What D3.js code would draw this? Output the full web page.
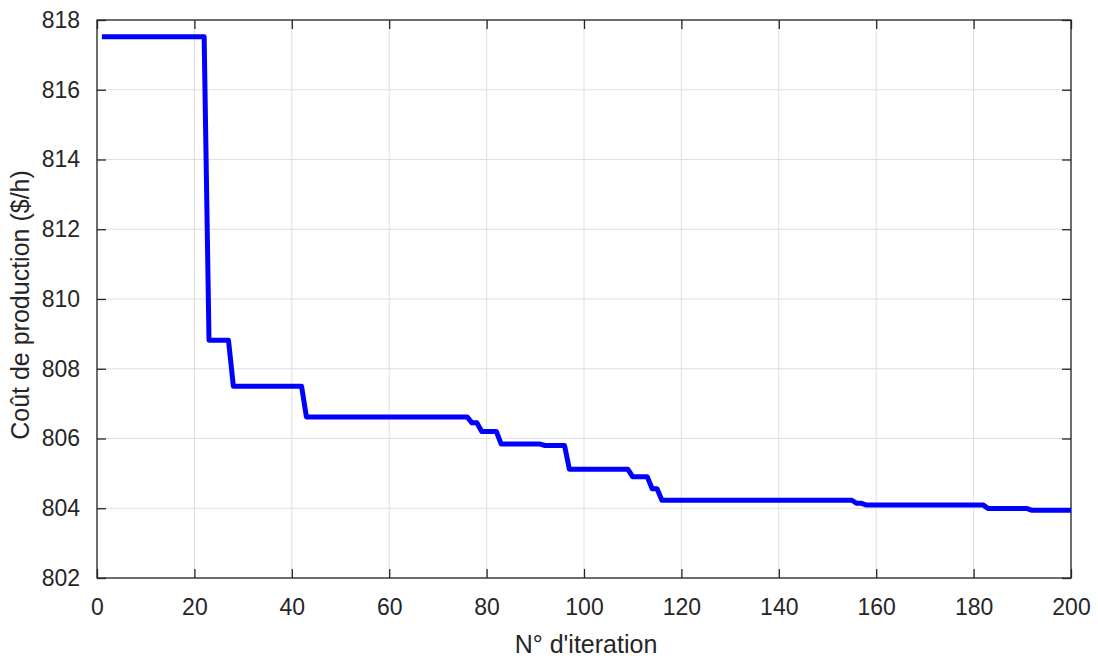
<!DOCTYPE html>
<html>
<head>
<meta charset="utf-8">
<script src="https://cdn.jsdelivr.net/npm/d3@7"></script>
<style>
  body { margin: 0; background: #fff; }
  text { font-family: "Liberation Sans", Arial, sans-serif; }
</style>
</head>
<body>
<div id="chart"></div>
<script>
// iteration where the cost changes, and the cost at that iteration
var iterations = [1, 22, 23, 27, 28, 42, 43, 76, 77, 78, 79, 82, 83, 91, 92, 96, 97, 109, 110, 113, 114, 115, 116, 155, 156, 157, 158, 182, 183, 191, 192, 200]
var cost = [817.52, 817.52, 808.82, 808.82, 807.5, 807.5, 806.62, 806.62, 806.45, 806.45, 806.2, 806.2, 805.84, 805.84, 805.8, 805.8, 805.12, 805.12, 804.9, 804.9, 804.56, 804.56, 804.23, 804.23, 804.14, 804.14, 804.09, 804.09, 803.99, 803.99, 803.94, 803.94]

var xTicks = [0, 20, 40, 60, 80, 100, 120, 140, 160, 180, 200]
var yTicks = [802, 804, 806, 808, 810, 812, 814, 816, 818]

var data = []
for (var i = 0; i < iterations.length; i++) {
    data.push({ it: iterations[i], c: cost[i] })
}

var dimensions = {
    margin: { top: 20, bottom: 81, right: 27, left: 97 },
    width: 1098,
    height: 659
}
var w = dimensions.width - dimensions.margin.left - dimensions.margin.right
var h = dimensions.height - dimensions.margin.top - dimensions.margin.bottom

var svg = d3.select("#chart")
    .append("svg")
    .attr("width", dimensions.width)
    .attr("height", dimensions.height)
    .append("g")
    .attr("transform", "translate(" + dimensions.margin.left + "," + dimensions.margin.top + ")")

var x = d3.scaleLinear().domain([0, 200]).range([0, w])
var y = d3.scaleLinear().domain([802, 818]).range([h, 0])

// grid
svg.append("g")
    .selectAll("line")
    .data(xTicks)
    .enter()
    .append("line")
    .attr("x1", function (d) { return x(d) })
    .attr("x2", function (d) { return x(d) })
    .attr("y1", 0)
    .attr("y2", h)
    .attr("stroke", "#dfdfdf")
    .attr("stroke-width", 1)
svg.append("g")
    .selectAll("line")
    .data(yTicks)
    .enter()
    .append("line")
    .attr("x1", 0)
    .attr("x2", w)
    .attr("y1", function (d) { return y(d) })
    .attr("y2", function (d) { return y(d) })
    .attr("stroke", "#dfdfdf")
    .attr("stroke-width", 1)

// axes, ticks pointing inward like matlab
var axisColor = "#262626"
function styleAxis(g) {
    g.select(".domain").remove()
    g.selectAll(".tick line").attr("stroke", axisColor).attr("stroke-width", 1.3)
    g.selectAll(".tick text").attr("fill", axisColor).style("font-size", "23px")
}
svg.append("g")
    .attr("transform", "translate(0," + h + ")")
    .call(d3.axisBottom(x).tickValues(xTicks).tickSizeInner(-9).tickPadding(21))
    .call(styleAxis)
svg.append("g")
    .call(d3.axisTop(x).tickValues(xTicks).tickSizeInner(-9).tickFormat(""))
    .call(styleAxis)
svg.append("g")
    .call(d3.axisLeft(y).tickValues(yTicks).tickSizeInner(-9).tickPadding(17))
    .call(styleAxis)
svg.append("g")
    .attr("transform", "translate(" + w + ",0)")
    .call(d3.axisRight(y).tickValues(yTicks).tickSizeInner(-9).tickFormat(""))
    .call(styleAxis)

svg.append("rect")
    .attr("x", 0)
    .attr("y", 0)
    .attr("width", w)
    .attr("height", h)
    .attr("fill", "none")
    .attr("stroke", axisColor)
    .attr("stroke-width", 1.3)

// line
var line = d3.line()
    .x(function (d) { return x(d.it) })
    .y(function (d) { return y(d.c) })
svg.append("path")
    .datum(data)
    .attr("d", line)
    .attr("fill", "none")
    .attr("stroke", "#0000ff")
    .attr("stroke-width", 5)
    .attr("stroke-linejoin", "round")

// labels
svg.append("text")
    .attr("x", w / 2 + 2)
    .attr("y", h + 75)
    .attr("text-anchor", "middle")
    .attr("fill", axisColor)
    .style("font-size", "25px")
    .text("N° d'iteration")
svg.append("text")
    .attr("transform", "translate(-68," + (h / 2 + 6) + ") rotate(-90)")
    .attr("text-anchor", "middle")
    .attr("fill", axisColor)
    .style("font-size", "25px")
    .text("Coût de production ($/h)")
</script>
</body>
</html>
